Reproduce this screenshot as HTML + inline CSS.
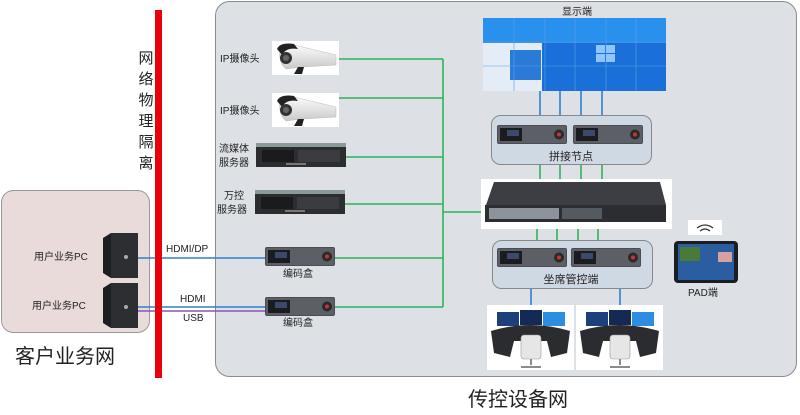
<!DOCTYPE html>
<html><head><meta charset="utf-8"><style>
html,body{margin:0;padding:0;background:#fff;}
svg{display:block;font-family:"Liberation Sans","Noto Sans CJK SC",sans-serif;}
</style></head><body>
<svg width="800" height="415" viewBox="0 0 800 415" xmlns="http://www.w3.org/2000/svg">
<defs>
<linearGradient id="cam" x1="0" y1="0" x2="0" y2="1"><stop offset="0" stop-color="#fdfdfd"/><stop offset="1" stop-color="#c9c9c9"/></linearGradient>
<g id="enc">
<rect x="0" y="0" width="70" height="19" rx="2" fill="#4a4d52"/>
<rect x="1" y="1" width="68" height="17" fill="#5c6066"/>
<rect x="3" y="3" width="22" height="13" fill="#1a1c20"/>
<rect x="10" y="5" width="12" height="6" fill="#3b4a6a"/>
<circle cx="62" cy="9.5" r="5" fill="#2a2a2a"/><circle cx="62" cy="9.5" r="2" fill="#c33"/>
</g>
<g id="srv">
<rect x="0" y="0" width="90" height="24" fill="#2b2d30"/>
<rect x="0" y="0" width="90" height="4" fill="#8a9a98"/>
<rect x="6" y="7" width="32" height="12" fill="#1a1b1d"/>
<rect x="42" y="7" width="42" height="12" fill="#3a3c3f"/>
<rect x="30" y="20" width="20" height="2" fill="#777"/>
</g>
<g id="enccam">
<rect x="0" y="0" width="67" height="34" fill="#fff"/>
<path d="M8 8 Q12 2 22 4 L64 14 L64 24 L30 26 L14 28 Q6 22 8 8Z" fill="url(#cam)" stroke="#bbb" stroke-width="0.5"/>
<path d="M5 8 Q8 1 22 3 L26 8 Q14 6 10 14Z" fill="#222"/>
<circle cx="14" cy="17" r="6" fill="#333"/><circle cx="14" cy="17" r="3" fill="#666"/>
<path d="M26 26 L22 33 L30 33 L32 26Z" fill="#222"/>
</g>
<g id="pc">
<path d="M8 0 L35 0 L35 45 L8 45 L0 40 L0 5Z" fill="#1d1e20"/>
<rect x="8" y="0" width="27" height="45" fill="#2c2e31"/>
<circle cx="23" cy="24" r="2" fill="#aaa"/>
</g>
<g id="ws">
<rect x="0" y="0" width="87" height="65" fill="#fff"/>
<rect x="10" y="7" width="22" height="14" fill="#1d3f7a"/>
<rect x="33" y="5" width="22" height="15" fill="#142a55"/>
<rect x="56" y="7" width="22" height="14" fill="#2d8de0"/>
<path d="M4 26 Q43 14 83 26 L80 48 L64 52 L60 36 L27 36 L23 52 L7 48Z" fill="#2a2c30"/>
<rect x="34" y="30" width="20" height="24" rx="3" fill="#e6e6e6" stroke="#999" stroke-width="0.6"/>
<path d="M44 54 L44 60 M34 62 L54 62" stroke="#666" stroke-width="1.5"/>
</g>
</defs>

<rect x="215.5" y="1.5" width="581" height="375" rx="14" fill="#dde1e6" stroke="#8a8c8e" stroke-width="1"/>
<rect x="1.5" y="190.5" width="148" height="142" rx="12" fill="#eadbdb" stroke="#999" stroke-width="1"/>

<g stroke="#2db35a" stroke-width="1.6" fill="none">
<path d="M339 59 H443 M339 98 H443 M346 157 H443 M345 204 H443 M335 258 H443 M335 307 H443 M443 59 V307 M443 212 H490"/>
<path d="M540 164 V182 M560 164 V182 M581 164 V182 M602 164 V182"/>
<path d="M537 222 V240 M557 222 V240 M578 222 V240 M598 222 V240"/>
</g>
<g stroke="#2f7fd0" stroke-width="1.6" fill="none">
<path d="M540 91 V115 M560 91 V115 M581 91 V115 M602 91 V115"/>
<path d="M531 288 V305 M620 288 V305"/>
<path d="M138 258 H265 M138 307 H265"/>
</g>
<path d="M138 311 H265" stroke="#8a55b5" stroke-width="1.6"/>

<rect x="155" y="10" width="7" height="368" fill="#e8000b"/>

<g font-size="15" fill="#222" text-anchor="middle">
<text x="146" y="63">网</text><text x="146" y="84">络</text><text x="146" y="105">物</text>
<text x="146" y="126">理</text><text x="146" y="147">隔</text><text x="146" y="168">离</text>
</g>

<use href="#enccam" x="272" y="41"/>
<use href="#enccam" x="272" y="93"/>
<g font-size="10" fill="#222">
<text x="220" y="62">IP摄像头</text>
<text x="220" y="114">IP摄像头</text>
<text x="219" y="152">流媒体</text><text x="219" y="166">服务器</text>
<text x="224" y="199">万控</text><text x="217" y="213">服务器</text>
<text x="283" y="277">编码盒</text><text x="283" y="326">编码盒</text>
<text x="34" y="260">用户业务PC</text><text x="32" y="309">用户业务PC</text>
<text x="166" y="252">HDMI/DP</text>
<text x="180" y="302">HDMI</text><text x="183" y="321">USB</text>
<text x="562" y="15">显示端</text>
<text x="688" y="296">PAD端</text>
</g>
<use href="#srv" x="256" y="143"/>
<use href="#srv" x="255" y="190"/>
<use href="#enc" x="265" y="247"/>
<use href="#enc" x="265" y="297"/>
<use href="#pc" x="103" y="233"/>
<use href="#pc" x="103" y="283"/>

<!-- display wall -->
<rect x="483" y="18" width="183" height="73" fill="#1a6fd8"/>
<rect x="483" y="18" width="183" height="25" fill="#2a90ee"/>
<rect x="483" y="43" width="59" height="48" fill="#e4ecf5"/>
<rect x="510" y="50" width="31" height="30" fill="#2a7ad8"/>
<g stroke="#5aa0ea" stroke-width="0.6" fill="none">
<path d="M514 18 V91 M545 18 V91 M575 18 V91 M606 18 V91 M636 18 V91 M483 42 H666 M483 66 H666"/>
</g>
<rect x="596" y="45" width="9" height="8" fill="#8fc6ff"/><rect x="606" y="45" width="9" height="8" fill="#8fc6ff"/>
<rect x="596" y="54" width="9" height="8" fill="#8fc6ff"/><rect x="606" y="54" width="9" height="8" fill="#8fc6ff"/>

<rect x="491.5" y="115.5" width="160" height="49" rx="9" fill="#cfd9e4" stroke="#888" stroke-width="1"/>
<use href="#enc" x="497" y="125"/><use href="#enc" x="573" y="125"/>
<text x="571" y="160" font-size="11" fill="#222" text-anchor="middle">拼接节点</text>

<rect x="481" y="179" width="191" height="50" fill="#fff"/>
<path d="M494 182 L660 182 L666 205 L486 205Z" fill="#3c3e44"/>
<rect x="485" y="205" width="181" height="17" fill="#2b2d33"/>
<rect x="489" y="208" width="70" height="11" fill="#8d939b"/>
<rect x="562" y="208" width="40" height="11" fill="#555960"/>

<rect x="492.5" y="240.5" width="160" height="48" rx="9" fill="#cfd9e4" stroke="#888" stroke-width="1"/>
<use href="#enc" x="497" y="248"/><use href="#enc" x="571" y="248"/>
<text x="571" y="283" font-size="11" fill="#222" text-anchor="middle">坐席管控端</text>

<use href="#ws" x="487" y="305"/>
<use href="#ws" x="576" y="305"/>

<rect x="688" y="220" width="34" height="15" fill="#fff"/>
<g fill="none" stroke="#333" stroke-width="1.3">
<path d="M697 228 Q705 222 713 228"/><path d="M700 231 Q705 227 710 231"/>
</g>
<rect x="674" y="241" width="64" height="42" rx="4" fill="#1b1d22"/>
<rect x="678" y="244" width="56" height="36" fill="#2b5ea0"/>
<rect x="680" y="247" width="20" height="14" fill="#4a7a3a"/>
<rect x="718" y="252" width="14" height="10" fill="#d9a0a0"/>

<text x="15" y="363" font-size="20" fill="#222">客户业务网</text>
<text x="468" y="406" font-size="20" fill="#222">传控设备网</text>
</svg>
</body></html>
